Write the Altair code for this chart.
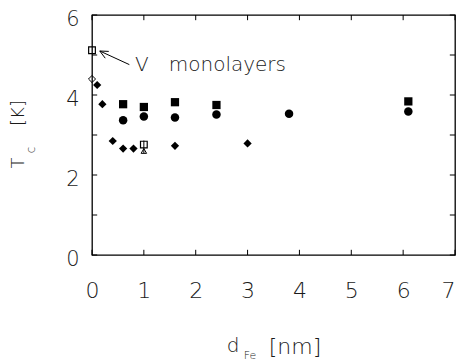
import altair as alt
import pandas as pd

# ---- data ----
sq_x = [0.6, 1.0, 1.6, 2.4, 6.1]            # filled squares
sq_y = [3.77, 3.70, 3.82, 3.75, 3.84]
ci_x = [0.6, 1.0, 1.6, 2.4, 3.8, 6.1]       # filled circles
ci_y = [3.37, 3.46, 3.44, 3.51, 3.53, 3.59]
di_x = [0.1, 0.2, 0.4, 0.6, 0.8, 1.6, 3.0]  # filled diamonds
di_y = [4.25, 3.77, 2.85, 2.66, 2.66, 2.73, 2.79]
osq_x = [0.0, 1.0]                          # open squares
osq_y = [5.12, 2.76]
odi_x = [0.0]                               # open diamond
odi_y = [4.40]
otr_x = [1.0]                               # open triangle
otr_y = [2.60]
err_x = [1.0]
err_lo = [2.55]
err_hi = [2.86]

x_ticks = [0, 1, 2, 3, 4, 5, 6, 7]
y_ticks = [0, 1, 2, 3, 4, 5, 6]
y_labels = [0, 2, 4, 6]

# annotation "V monolayers" with arrow (data coordinates)
arrow_x = [0.15, 0.72]
arrow_y = [5.10, 4.76]
head1_x = [0.15, 0.255]
head1_y = [5.10, 4.92]
head2_x = [0.15, 0.323]
head2_y = [5.10, 5.09]
ann_text = ["V", "monolayers"]
ann_x = [0.83, 1.48]
ann_y = [4.75, 4.75]

FONT = "DejaVu Sans"
INK = "#1a1a1a"

xs = alt.Scale(domain=[0, 7], nice=False, zero=False)
ys = alt.Scale(domain=[0, 6], nice=False, zero=False)
xax = alt.Axis(values=x_ticks, ticks=False, domain=False, grid=False, title=None,
               format="d", labelOverlap=False, labelFlush=False,
               labelAlign={"condition": {"test": "datum.value == 7", "value": "right"},
                           "value": "center"},
               labelFont=FONT, labelFontSize=22, labelFontWeight=200, labelColor=INK,
               labelBaseline="middle", labelPadding=35)
yax = alt.Axis(values=y_labels, ticks=False, domain=False, grid=False, title=None,
               format="d", labelOverlap=False, labelOffset=4,
               labelFont=FONT, labelFontSize=21, labelFontWeight=200, labelColor=INK,
               labelPadding=13)


def pts(xv, yv, shape, filled, size, sw=1.0):
    df = pd.DataFrame({"x": xv, "y": yv})
    return alt.Chart(df).mark_point(shape=shape, filled=filled, size=size, color="black",
                                    opacity=1, strokeWidth=sw).encode(
        x=alt.X("x:Q", scale=xs, axis=xax), y=alt.Y("y:Q", scale=ys, axis=yax))


def seg(xv, yv, sw=1.0):
    df = pd.DataFrame({"x": xv, "y": yv, "o": list(range(len(xv)))})
    return alt.Chart(df).mark_line(color="black", strokeWidth=sw).encode(
        x=alt.X("x:Q", scale=xs, axis=xax), y=alt.Y("y:Q", scale=ys, axis=yax), order="o:Q")


def label(text, px, py, size, angle=0):
    return alt.Chart(pd.DataFrame({"t": [text]})).mark_text(
        font=FONT, fontSize=size, fontWeight=200, color=INK, align="center",
        baseline="middle", angle=angle).encode(
        x=alt.value(px), y=alt.value(py), text="t:N")


# ticks (inward) on all four sides
xt = pd.DataFrame({"x": x_ticks})
yt = pd.DataFrame({"y": y_ticks})
tick_b = alt.Chart(xt).mark_rule(color="black", strokeWidth=1).encode(
    x=alt.X("x:Q", scale=xs, axis=xax), y=alt.datum(0), y2=alt.datum(0.13))
tick_t = alt.Chart(xt).mark_rule(color="black", strokeWidth=1).encode(
    x=alt.X("x:Q", scale=xs, axis=xax), y=alt.datum(5.87), y2=alt.datum(6))
tick_l = alt.Chart(yt).mark_rule(color="black", strokeWidth=1).encode(
    y=alt.Y("y:Q", scale=ys, axis=yax), x=alt.datum(0), x2=alt.datum(0.1))
tick_r = alt.Chart(yt).mark_rule(color="black", strokeWidth=1).encode(
    y=alt.Y("y:Q", scale=ys, axis=yax), x=alt.datum(6.9), x2=alt.datum(7))

err = alt.Chart(pd.DataFrame({"x": err_x, "lo": err_lo, "hi": err_hi})).mark_rule(
    color="black", strokeWidth=1).encode(x=alt.X("x:Q", scale=xs, axis=xax),
                                         y=alt.Y("lo:Q", scale=ys, axis=yax), y2="hi:Q")

ann = alt.Chart(pd.DataFrame({"t": ann_text, "x": ann_x, "y": ann_y})).mark_text(
    font=FONT, fontSize=20, fontWeight=200, color=INK, align="left", baseline="middle").encode(
    x=alt.X("x:Q", scale=xs, axis=xax), y=alt.Y("y:Q", scale=ys, axis=yax), text="t:N")

chart = alt.layer(
    pts(sq_x, sq_y, "square", True, 68),
    tick_b, tick_t, tick_l, tick_r,
    pts(ci_x, ci_y, "circle", True, 72),
    pts(di_x, di_y, "diamond", True, 68),
    pts(osq_x, osq_y, "square", False, 45, 1.2),
    pts(odi_x, odi_y, "diamond", False, 50, 1.0),
    pts(otr_x, otr_y, "triangle-up", False, 30, 1.0),
    err,
    seg(arrow_x, arrow_y), seg(head1_x, head1_y), seg(head2_x, head2_y),
    ann,
    label("d", 141, 331, 20), label("Fe", 158, 341, 11), label("[nm]", 203, 332, 22),
    label("T", -73, 148, 18, 270), label("c", -61, 135, 12, 270), label("[K]", -73, 98, 18, 270),
).properties(
    width=363, height=240,
    autosize=alt.AutoSizeParams(type="none"),
    padding={"left": 84, "top": 7, "right": 1, "bottom": 107},
).configure_view(stroke="black", strokeWidth=1.3)

chart.save("out.html", embed_options={"renderer": "svg", "actions": False})
